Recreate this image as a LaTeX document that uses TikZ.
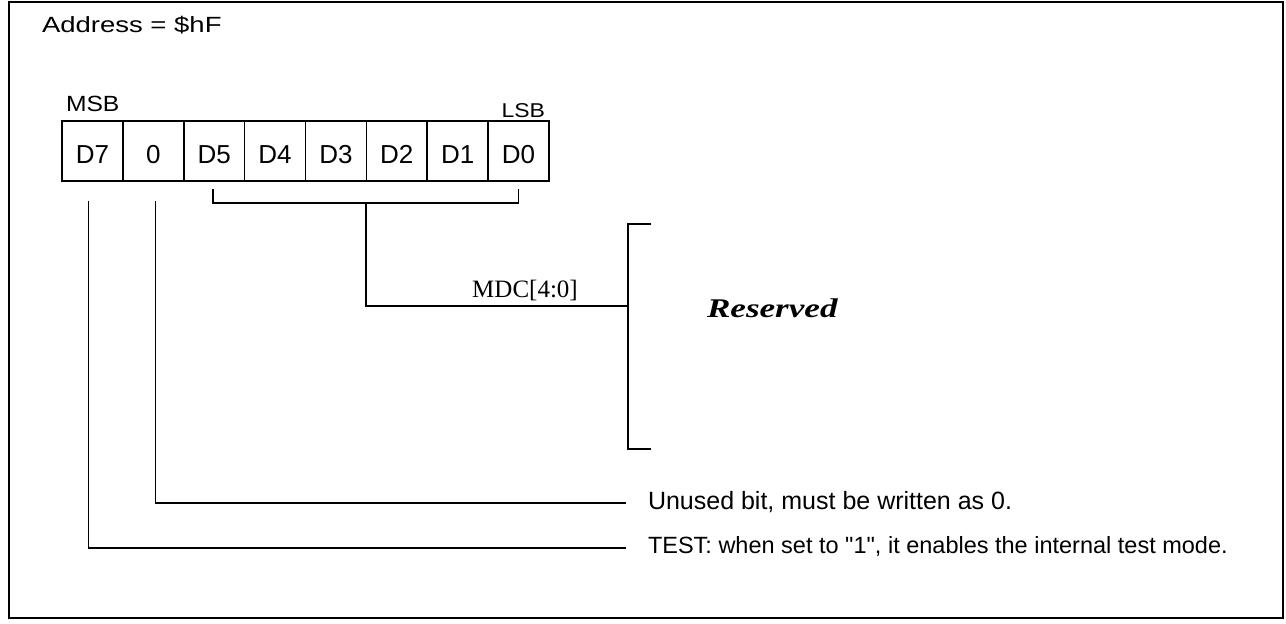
\documentclass[tikz,border=0pt]{standalone}
\usepackage{fontspec}
\usepackage{graphicx}
\setmainfont{Liberation Sans}
\newfontfamily\serifx{Liberation Serif}
\usetikzlibrary{calc}
\tikzset{
  bitbox/.style={draw, line width=1.6pt, minimum width=60.875pt, minimum height=60pt,
    inner sep=0pt, outer sep=0pt, text height=25pt, text depth=0pt,
    font=\fontsize{26}{30}\selectfont},
  conn/.style={line width=1.5pt},
  lbl/.style={inner sep=0pt, outer sep=0pt},
}
\begin{document}
\begin{tikzpicture}[x=1pt,y=-1pt]
\useasboundingbox (0,0) rectangle (1286,624);
\draw[line width=1.6pt] (9,2) rectangle (1283,618);

\node[lbl, anchor=base west, font=\fontsize{22}{26}\selectfont] (addr) at (42,32) {\scalebox{1.25}[1]{Address = \$hF}};

\foreach \n/\t [count=\i from 0] in {b7/D7,b6/0,b5/D5,b4/D4,b3/D3,b2/D2,b1/D1,b0/D0}
  \node[bitbox] (\n) at ({62+60.875*(\i+0.5)},151) {\t};

\node[lbl, anchor=base west, font=\fontsize{22}{26}\selectfont] (msb) at (66,111) {\scalebox{1.12}[1]{MSB}};
\node[lbl, anchor=base east, font=\fontsize{20}{24}\selectfont] (lsb) at (545,117) {\scalebox{1.15}[1]{LSB}};

% bracket under D5..D0
\coordinate (bl) at ($(b5.south)+(-1,8)$);
\coordinate (br) at ($(b0.south)+(0,8)$);
\draw[conn] (bl) -- ++(0,14) coordinate (bl2) -- (bl2 -| br) coordinate (br2) -- (br);
\coordinate (bm) at ($(bl2)!0.5!(br2)$);

% big bracket
\coordinate (rt) at (651,224);
\coordinate (rtc) at (628,224);
\coordinate (rbc) at (628,449);
\coordinate (rb) at (651,449);
\draw[conn] (rt) -- (rtc) -- (rbc) -- (rb);
\coordinate (rmid) at (628,306);
\draw[conn] (bm) |- (rmid);

\node[lbl, anchor=base, font=\serifx\fontsize{25}{30}\selectfont] (mdc) at (525,297) {MDC[4:0]};
\node[lbl, anchor=base west, font=\serifx\bfseries\itshape\fontsize{27}{32}\selectfont] (res) at (707,317) {\scalebox{1.3}[1]{Reserved}};

% bit 6 and bit 7 descriptions
\node[lbl, anchor=base west, font=\fontsize{25}{30}\selectfont] (unused) at (648,509) {Unused bit, must be written as 0.};
\node[lbl, anchor=base west, font=\fontsize{23.5}{28}\selectfont] (test) at (648,553) {TEST: when set to \textquotedbl 1\textquotedbl, it enables the internal test mode.};

\coordinate (e6) at ($(unused.base west)+(-22,-6)$);
\coordinate (e7) at ($(test.base west)+(-22,-5)$);
\draw[conn] ($(b6.south)+(2,20)$) |- (e6);
\draw[conn] ($(b7.south)+(-4,20)$) |- (e7);
\end{tikzpicture}
\end{document}
